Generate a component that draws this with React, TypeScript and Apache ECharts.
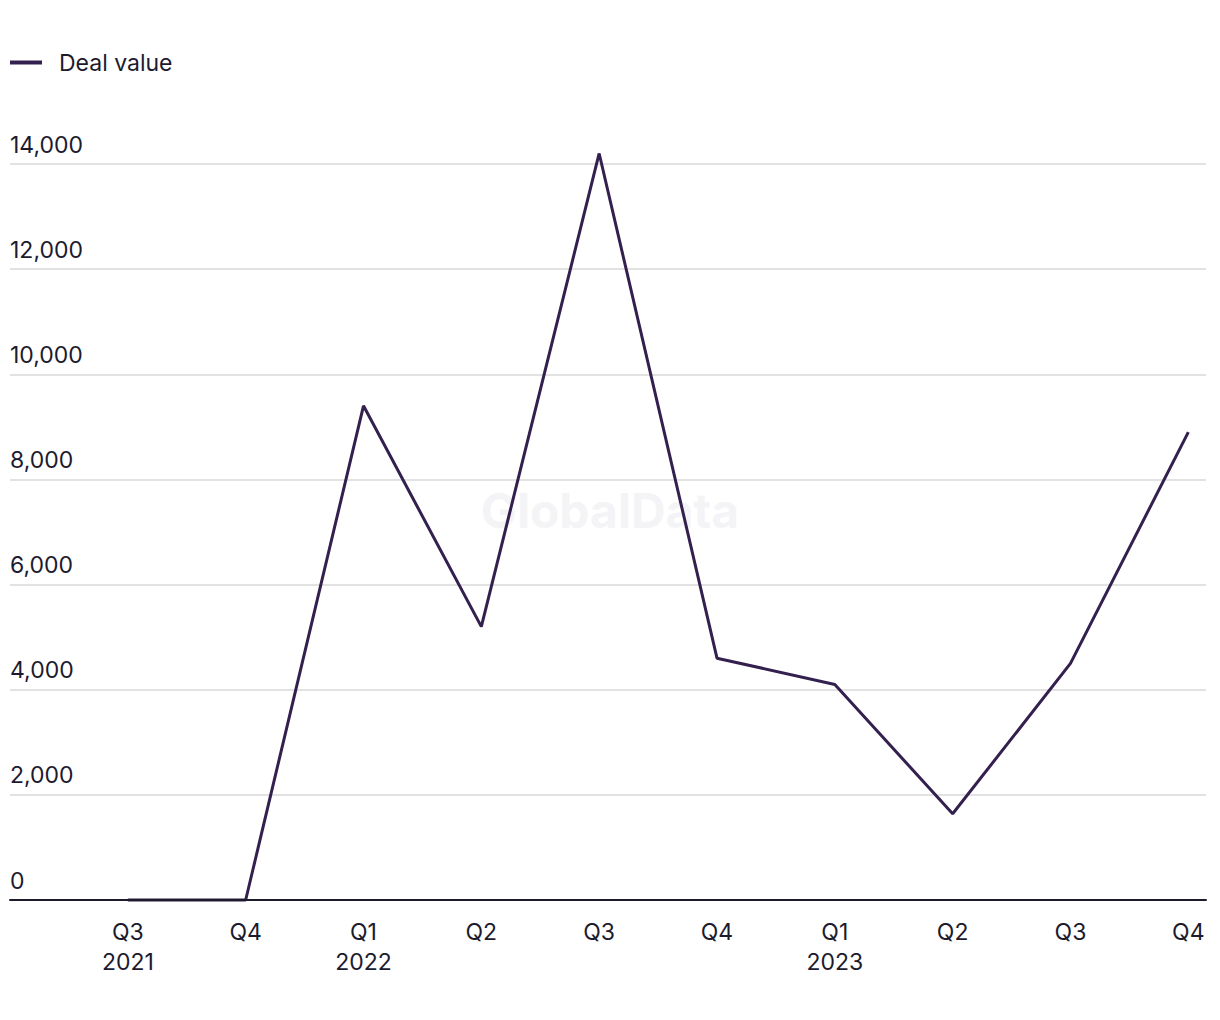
import React, { useEffect, useRef } from "react";
import * as echarts from "echarts";

const categories = ["Q3\n2021", "Q4", "Q1\n2022", "Q2", "Q3", "Q4", "Q1\n2023", "Q2", "Q3", "Q4"];
const dealValues = [0, 0, 9400, 5200, 14200, 4600, 4100, 1640, 4500, 8900];
const seriesName = "Deal value";

const LINE = "#33204f";
const TEXT = "#1c1b2e";
const FONT = "Inter, 'Noto Sans', sans-serif";

export default function App() {
  const ref = useRef<HTMLDivElement>(null);
  useEffect(() => {
    document.body.style.margin = "0";
    const chart = echarts.init(ref.current!, undefined, { renderer: "svg" });
    chart.setOption({
      animation: false,
      textStyle: { fontFamily: FONT },
      legend: {
        left: 5,
        top: 46,
        icon: "rect",
        itemWidth: 32,
        itemHeight: 4,
        textStyle: { fontSize: 23, color: TEXT, fontFamily: FONT, padding: [0, 0, 0, 12] },
        data: [seriesName],
      },
      graphic: [
        {
          type: "text",
          left: "center",
          top: 486,
          silent: true,
          z: 0,
          style: {
            text: "GlobalData",
            fontSize: 48,
            fontWeight: "bold",
            fontFamily: FONT,
            fill: "#f4f4f6",
          },
        },
      ],
      grid: { left: 10, right: 14, top: 164, bottom: 120 },
      xAxis: {
        type: "value",
        min: -1,
        max: 9.15,
        interval: 1,
        z: 5,
        axisLine: { show: true, lineStyle: { color: TEXT, width: 2 } },
        axisTick: { show: false },
        splitLine: { show: false },
        axisLabel: {
          fontSize: 23,
          color: TEXT,
          fontFamily: FONT,
          lineHeight: 30,
          margin: 17,
          showMinLabel: true,
          showMaxLabel: true,
          formatter: (v: number) =>
            Number.isInteger(v) && v >= 0 && v < categories.length ? categories[v] : "",
        },
      },
      yAxis: {
        type: "value",
        min: 0,
        max: 14000,
        interval: 2000,
        axisLine: { show: false },
        axisTick: { show: false },
        splitLine: { lineStyle: { color: "#d9d9d9", width: 1.5 } },
        axisLabel: {
          inside: true,
          align: "left",
          verticalAlign: "bottom",
          margin: 0,
          padding: [0, 0, 8, 0],
          fontSize: 23,
          color: TEXT,
          fontFamily: FONT,
          formatter: (v: number) => v.toLocaleString("en-US"),
        },
        z: 1,
      },
      series: [
        {
          name: seriesName,
          type: "line",
          clip: false,
          showSymbol: false,
          symbol: "none",
          lineStyle: { color: LINE, width: 3 },
          itemStyle: { color: LINE },
          data: dealValues.map((v, i) => [i, v]),
          z: 3,
        },
      ],
    });
    return () => chart.dispose();
  }, []);
  return <div ref={ref} style={{ width: 1220, height: 1020 }} />;
}
